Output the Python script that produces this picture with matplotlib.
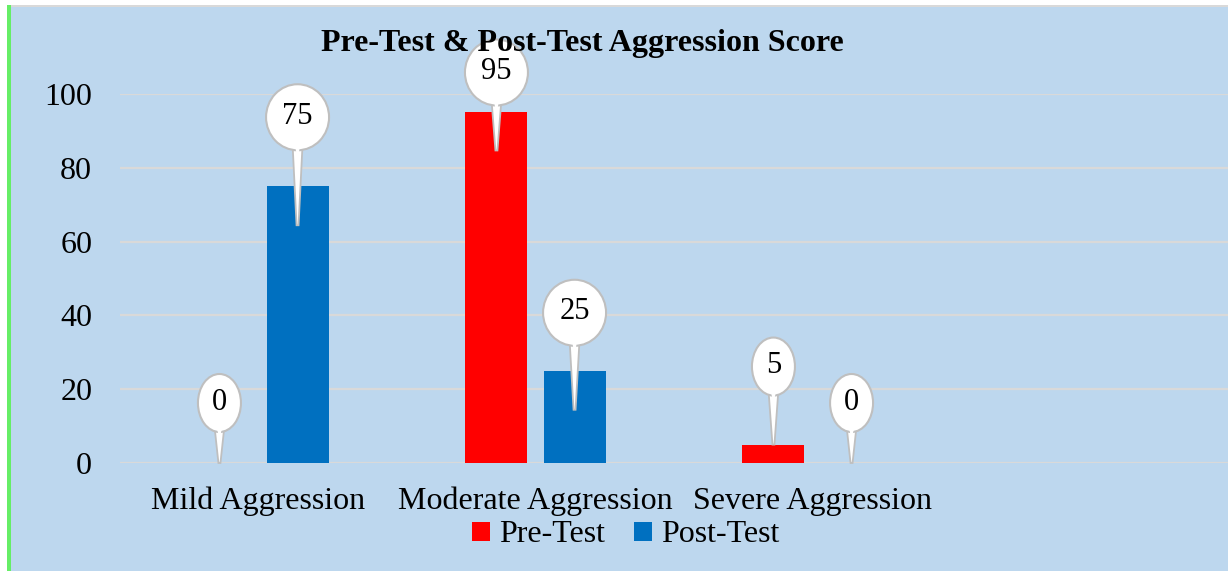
import matplotlib
matplotlib.use('Agg')
import numpy as np
from matplotlib import pyplot as plt
from matplotlib import patches as mpatches
from matplotlib import transforms as mtransforms

# Data
categories = ['Mild Aggression', 'Moderate Aggression', 'Severe Aggression', '']
pre_test = [0, 95, 5, None]
post_test = [75, 25, 0, None]
series_names = ['Pre-Test', 'Post-Test']

# Style
bg = '#BDD7EE'
red = '#FF0000'
blue = '#0070C0'
grid_col = '#D9D9D9'
serif = ['Liberation Serif', 'DejaVu Serif']

# callout placement (px): ellipse centre above bar top, pointer tip below bar top
callout_up = {'Pre-Test': [60, 40, 78], 'Post-Test': [69, 58, 60]}
callout_tip = {'Pre-Test': [0, 38, 0], 'Post-Test': [39, 39, 0]}

W, H = 1228, 571
fig = plt.figure(figsize=(W / 100, H / 100), dpi=100)
fig.patch.set_facecolor('white')

# background panel with green left edge and grey top line
fig.add_artist(mpatches.Rectangle((11 / W, 0), 1 - 11 / W, (H - 7) / H,
                                  transform=fig.transFigure, facecolor=bg,
                                  edgecolor='none', zorder=0))
fig.add_artist(mpatches.Rectangle((7 / W, 0), 4 / W, (H - 5) / H,
                                  transform=fig.transFigure, facecolor='#66EE66',
                                  edgecolor='none', zorder=0))
fig.add_artist(mpatches.Rectangle((11 / W, (H - 7) / H), 1 - 11 / W, 2 / H,
                                  transform=fig.transFigure, facecolor=grid_col,
                                  edgecolor='none', zorder=0))

ax = fig.add_axes([120 / W, (H - 463) / H, 1 - 120 / W, (463 - 94) / H])
ax.set_facecolor('none')

x = np.arange(len(categories))
width = 0.224
off = 0.141
pre_vals = [v if v is not None else 0 for v in pre_test]
post_vals = [v if v is not None else 0 for v in post_test]
bars_pre = ax.bar(x - off, pre_vals, width, color=red, label=series_names[0], zorder=2)
bars_post = ax.bar(x + off, post_vals, width, color=blue, label=series_names[1], zorder=2)

ax.set_xlim(-0.5, len(categories) - 0.5)
ax.set_ylim(0, 100)
ax.set_yticks(np.arange(0, 101, 20))
ax.yaxis.grid(True, color=grid_col, linewidth=1.6, zorder=1)
ax.set_axisbelow(True)
for s in ax.spines.values():
    s.set_visible(False)
ax.tick_params(axis='both', length=0, labelsize=23)
ax.tick_params(axis='y', pad=20)
ax.tick_params(axis='x', pad=17)
ax.set_xticks(x)
ax.set_xticklabels(categories)
for lbl in ax.get_xticklabels() + ax.get_yticklabels():
    lbl.set_fontfamily(serif)

fig.text(582 / W, 1 - 43 / H, 'Pre-Test & Post-Test Aggression Score',
         ha='center', va='center', fontsize=23, fontweight='bold',
         family=serif, zorder=6)

leg = fig.legend(handles=[bars_pre, bars_post], labels=series_names,
                 loc='center', bbox_to_anchor=(626 / W, 1 - 535 / H),
                 ncol=2, frameon=False, prop={'family': serif, 'size': 23},
                 handlelength=0.55, handleheight=0.55, handletextpad=0.3,
                 columnspacing=0.9, borderpad=0, borderaxespad=0)

# callouts, drawn in pixel space
ident = mtransforms.IdentityTransform()
for name, bars, vals in [('Pre-Test', bars_pre, pre_test), ('Post-Test', bars_post, post_test)]:
    for i, (b, v) in enumerate(zip(bars, vals)):
        if v is None:
            continue
        bx = b.get_x() + b.get_width() / 2
        px, py = ax.transData.transform((bx, v))
        txt = f'{v}'
        ew = 23 + 20 * len(txt)
        eh = 50 + 8 * len(txt)
        cy = py + callout_up[name][i]
        ty = py - callout_tip[name][i]
        base_y = cy - eh / 2 + 6
        tri = mpatches.Polygon([(px - 5, base_y), (px + 5, base_y), (px + 1, ty), (px - 1, ty)],
                               closed=True, transform=ident, facecolor='white',
                               edgecolor='#BFBFBF', linewidth=1.3, zorder=3)
        ell = mpatches.Ellipse((px, cy), ew, eh, transform=ident, facecolor='white',
                               edgecolor='#BFBFBF', linewidth=1.5, zorder=3.1)
        cover = mpatches.Polygon([(px - 3.8, base_y + 4), (px + 3.8, base_y + 4), (px, base_y - 14)],
                                 closed=True, transform=ident, facecolor='white',
                                 edgecolor='none', zorder=3.2)
        fig.add_artist(tri)
        fig.add_artist(ell)
        fig.add_artist(cover)
        fig.text(px / W, (cy + 1) / H, txt, ha='center', va='center', fontsize=22,
                 family=serif, zorder=3.3)

fig.savefig('out.png', dpi=100)
